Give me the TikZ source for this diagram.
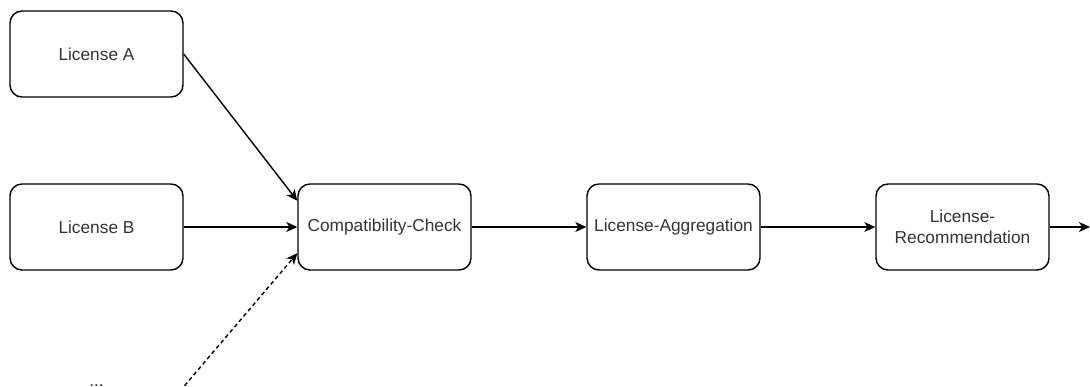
\documentclass[tikz,border=0pt]{standalone}
\usepackage{fontspec}
\setmainfont{Liberation Sans}
\usetikzlibrary{arrows.meta,calc}
\begin{document}
\begin{tikzpicture}[x=1pt,y=-1pt,
  box/.style={draw, line width=1.4pt, rounded corners=12pt,
    minimum width=173pt, minimum height=86pt, inner sep=0pt,
    align=center, text=black!80,
    font=\fontsize{17.3}{21.5}\selectfont},
  flow/.style={line width=1.4pt,
    -{Stealth[length=11pt,width=10pt,inset=3pt]}},
  more/.style={flow, dash pattern=on 4pt off 3pt},
]
\useasboundingbox (0,0) rectangle (1090,387);
\clip (0,0) rectangle (1090,387);

% input licences
\node[box] (la) at (96.5,54)  {License A};
\node[box] (lb) at (96.5,227) {License B};
\node[anchor=base, text=black!80, font=\fontsize{17.3}{21.5}\selectfont]
  (dots) at (96.5,386.5) {...};
\coordinate (dotsout) at (180,391);

% processing chain
\node[box] (cc) at (384.5,227) {Compatibility-Check};
\node[box] (ag) at (673.5,227) {License-Aggregation};
\node[box] (rc) at (962.5,227) {License-\\Recommendation};
\coordinate (out) at (1090,227);

% connectors
\draw[flow] (la.east) -- ($(cc.north west)!0.2!(cc.south west)$);
\draw[flow] (lb.east) -- (cc.west);
\draw[more] (dotsout) -- ($(cc.north west)!0.8!(cc.south west)$);
\draw[flow] (cc.east) -- (ag.west);
\draw[flow] (ag.east) -- (rc.west);
\draw[flow] (rc.east) -- (out);
\end{tikzpicture}
\end{document}
